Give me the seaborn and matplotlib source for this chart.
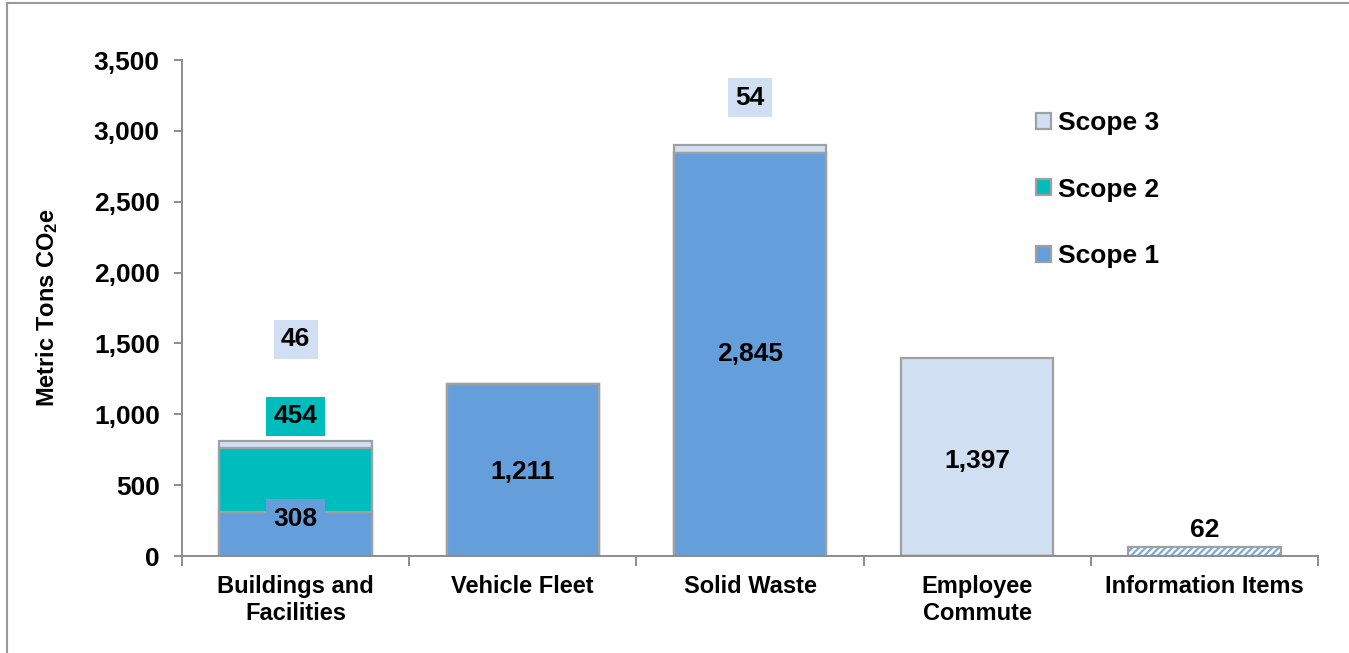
import matplotlib
matplotlib.use("Agg")
import matplotlib.pyplot as plt
from matplotlib.patches import Patch
from matplotlib.lines import Line2D
from matplotlib.ticker import FuncFormatter, FixedLocator
import numpy as np
import pandas as pd
import seaborn as sns

# ---- data -------------------------------------------------------------
categories = ["Buildings and\nFacilities", "Vehicle Fleet", "Solid Waste",
              "Employee\nCommute", "Information Items"]
scope1 = [308, 1211, 2845, 0, 0]
scope2 = [454, 0, 0, 0, 0]
scope3 = [46, 0, 54, 1397, 0]
unscoped = [0, 0, 0, 0, 62]          # hatched bar, not part of the scope legend
yticks = [0, 500, 1000, 1500, 2000, 2500, 3000, 3500]
legend_labels = ["Scope 3", "Scope 2", "Scope 1"]

# ---- style ------------------------------------------------------------
sns.set_style("ticks")
plt.rcParams["font.family"] = ["Liberation Sans", "DejaVu Sans"]
plt.rcParams["font.weight"] = "bold"
plt.rcParams["mathtext.default"] = "regular"
plt.rcParams["hatch.linewidth"] = 1.6
for key in ["text.color", "axes.labelcolor", "xtick.labelcolor", "ytick.labelcolor"]:
    plt.rcParams[key] = "black"

C1 = "#659fdb"
C2 = "#00bdbd"
C3 = "#d0e0f2"
EDGE = "#a0a0a0"
AXIS = "#8c8c8c"

df = pd.DataFrame({"category": categories, "s1": scope1, "s2": scope2,
                   "s3": scope3, "other": unscoped})
df["cum2"] = df["s1"] + df["s2"]
df["cum3"] = df["cum2"] + df["s3"]

fig = plt.figure(figsize=(13.49, 6.53), dpi=100)
ax = fig.add_axes([182 / 1349, 1 - 556 / 653, (1318 - 182) / 1349, (556 - 60) / 653])

W = 0.67
common = dict(data=df, x="category", order=categories, width=W,
              linewidth=1.6, ax=ax, errorbar=None)

# stacked scopes drawn as layered cumulative totals
sns.barplot(y="cum3", color=C3, edgecolor=EDGE, saturation=1, **common)
sns.barplot(y="cum2", color=C2, edgecolor=EDGE, saturation=1, **common)
sns.barplot(y="s1", color=C1, edgecolor=EDGE, saturation=1, **common)

# hatched bar
sns.barplot(y="other", color="white", edgecolor="#7aaae0", hatch="/////",
            saturation=1, **{**common, "linewidth": 0})
sns.barplot(y="other", fill=False, edgecolor=EDGE, **common)

# ---- axes -------------------------------------------------------------
ax.set_ylim(0, 3500)
ax.set_xlim(-0.5, 4.5)
ax.yaxis.set_major_locator(FixedLocator(yticks))
ax.yaxis.set_major_formatter(FuncFormatter(lambda v, p: f"{int(v):,}"))
ax.set_xlabel("")
ax.set_ylabel("Metric Tons CO$_2$e", fontsize=17, fontweight="bold")
ax.yaxis.set_label_coords(-0.107, 0.5)

for s in ["top", "right"]:
    ax.spines[s].set_visible(False)
for s in ["left", "bottom"]:
    ax.spines[s].set_color(AXIS)
    ax.spines[s].set_linewidth(1.4)

ax.tick_params(axis="y", direction="out", length=6, width=1.4, color=AXIS,
               labelsize=19, pad=10)
ax.tick_params(axis="x", which="major", length=0, labelsize=17, pad=14)
ax.set_xticks(np.arange(-0.5, 5, 1), minor=True)
ax.tick_params(axis="x", which="minor", direction="out", length=7, width=1.4,
               color=AXIS)
for lab in ax.get_xticklabels() + ax.get_yticklabels():
    lab.set_fontweight("bold")
    lab.set_color("black")
for lab in ax.get_xticklabels():
    lab.set_multialignment("center")
    lab.set_linespacing(1.2)

# ---- value labels -----------------------------------------------------
VFS = 19


def boxed(x, y, value, face):
    ax.text(x, y, f"{value:,}", ha="center", va="center", fontsize=VFS,
            fontweight="bold", color="black",
            bbox=dict(boxstyle="square,pad=0.28", facecolor=face, edgecolor="none"))


# Buildings and Facilities
boxed(0, 1530, scope3[0], C3)
boxed(0, 985, scope2[0], C2)
boxed(0, 262, scope1[0], C1)
# Vehicle Fleet / Solid Waste / Employee Commute
ax.text(1, scope1[1] / 2 - 10, f"{scope1[1]:,}", ha="center", va="center",
        fontsize=VFS, fontweight="bold")
ax.text(2, scope1[2] / 2, f"{scope1[2]:,}", ha="center", va="center",
        fontsize=VFS, fontweight="bold")
boxed(2, 3235, scope3[2], C3)
ax.text(3, scope3[3] / 2 - 25, f"{scope3[3]:,}", ha="center", va="center",
        fontsize=VFS, fontweight="bold")
# Information Items
ax.annotate(f"{unscoped[4]:,}", xy=(4, unscoped[4]), xytext=(0, 4),
            textcoords="offset points", ha="center", va="bottom",
            fontsize=VFS, fontweight="bold")

# ---- legend -----------------------------------------------------------
handles = [Patch(facecolor=c, edgecolor=EDGE, linewidth=1.6) for c in (C3, C2, C1)]
leg = fig.legend(handles, legend_labels, loc="upper left",
                 bbox_to_anchor=(1036 / 1349, 1 - 111 / 653), frameon=False,
                 fontsize=19, handlelength=0.55, handleheight=0.55,
                 handletextpad=0.3, labelspacing=1.62, borderpad=0,
                 borderaxespad=0)
for t in leg.get_texts():
    t.set_fontweight("bold")
    t.set_color("black")

# ---- outer frame (left and top edges) ---------------------------------
fig.add_artist(Line2D([6.5 / 1349, 6.5 / 1349], [0, 1 - 3 / 653],
                      transform=fig.transFigure, color="#9a9a9a", lw=1.5))
fig.add_artist(Line2D([6.5 / 1349, 1], [1 - 3 / 653, 1 - 3 / 653],
                      transform=fig.transFigure, color="#9a9a9a", lw=1.5))

fig.savefig("out.png", dpi=100)
